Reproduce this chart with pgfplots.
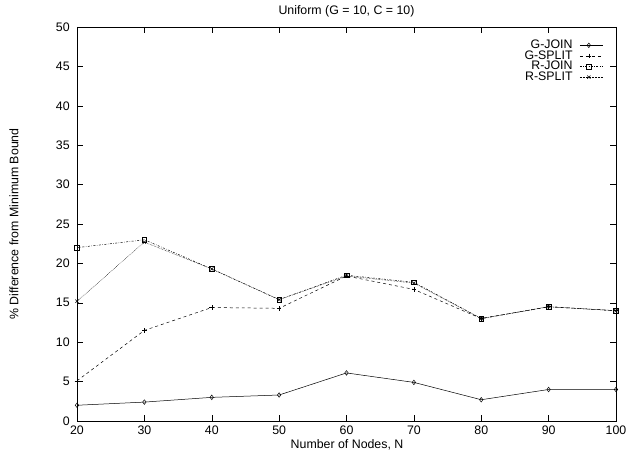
\documentclass[border=0pt]{standalone}
\usepackage{pgfplots}
\pgfplotsset{compat=1.18}
\usepackage{fontspec}
\setmainfont{Liberation Sans}
\newcommand{\ff}{\fontsize{12.4}{14}\selectfont}
\begin{document}
\ff
\begin{tikzpicture}
\begin{axis}[
  scale only axis,
  width=539bp, height=394bp,
  xmin=20, xmax=100, ymin=0, ymax=50,
  xtick={20,30,...,100}, ytick={0,5,...,50},
  tick align=inside,
  major tick length=6bp,
  /pgf/number format/assume math mode=true,
  tick label style={font=\ff},
  yticklabel style={xshift=-3bp},
  xticklabel style={yshift=-1bp},
  label style={font=\ff},
  title style={font=\ff, at={(axis description cs:0.5,1.025)}, anchor=center},
  title={Uniform (G = 10, C = 10)},
  xlabel={Number of Nodes, N},
  ylabel={\% Difference from Minimum Bound},
  xlabel style={at={(axis description cs:0.501,-0.061)}, anchor=center},
  ylabel style={at={(axis description cs:-0.117,0.5)}, anchor=center},
  axis line style={line width=0.7pt},
  every tick/.style={black, line width=0.5pt},
  legend style={draw=none, fill=none, inner sep=0pt, outer sep=0pt,
    at={(0.976,0.967)}, anchor=north east,
    font=\ff, row sep=0pt, column sep=7bp,
    nodes={inner sep=0pt, text height=8.6bp, text depth=2bp}},
  legend cell align=right,
  legend plot pos=right,
  legend image code/.code={\draw[mark repeat=2,mark phase=2,#1] plot coordinates {(0bp,0bp)(9bp,0bp)(23bp,0bp)};},
  every axis plot/.append style={black, line width=0.5pt, mark size=2.3bp, mark options={solid, line width=0.5pt}},
]
\addplot[mark=diamond] coordinates {(20,2.0)(30,2.4)(40,3.0)(50,3.3)(60,6.1)(70,4.9)(80,2.7)(90,4.0)(100,4.0)};
\addlegendentry{G-JOIN}
\addplot[mark=+, dashed] coordinates {(20,5.1)(30,11.5)(40,14.4)(50,14.3)(60,18.4)(70,16.7)(80,13.0)(90,14.5)(100,14.0)};
\addlegendentry{G-SPLIT}
\addplot[mark=square, dash pattern=on 2bp off 1.5bp on 0.5bp off 1.5bp] coordinates {(20,22.0)(30,23.0)(40,19.3)(50,15.4)(60,18.5)(70,17.6)(80,13.0)(90,14.5)(100,14.0)};
\addlegendentry{R-JOIN}
\addplot[mark=x, densely dotted] coordinates {(20,15.2)(30,22.7)(40,19.3)(50,15.4)(60,18.4)(70,17.5)(80,13.0)(90,14.5)(100,14.0)};
\addlegendentry{R-SPLIT}
\end{axis}
\pgfresetboundingbox
\path ([shift={(-77bp,-35bp)}]current axis.south west) rectangle ([shift={(12bp,27bp)}]current axis.north east);
\end{tikzpicture}
\end{document}
